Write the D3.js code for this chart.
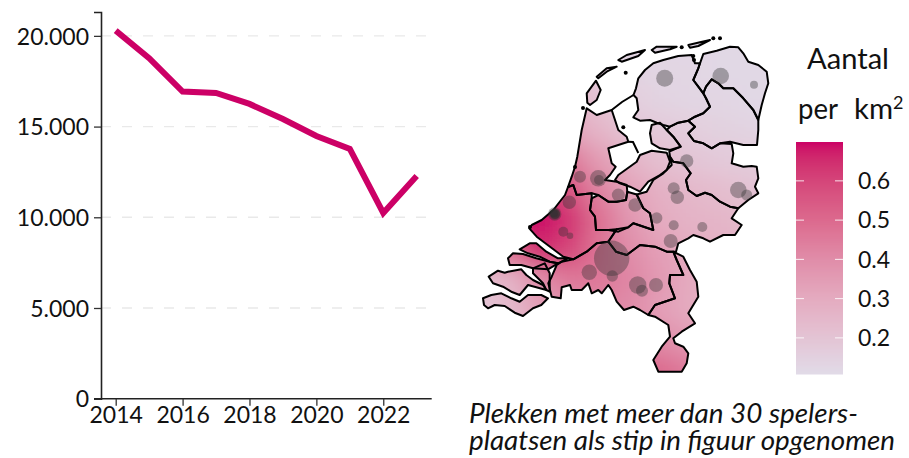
<!DOCTYPE html>
<html><head><meta charset="utf-8">
<style>html,body{margin:0;padding:0;background:#fff}svg{display:block}text{font-family:Lato,"Noto Sans",sans-serif;fill:#111}</style>
<script src="https://cdn.jsdelivr.net/npm/d3@7"></script>
</head><body><div id="c"></div>
<script>
const years=[2014,2015,2016,2017,2018,2019,2020,2021,2022,2023];
const players=[20290,18770,16930,16850,16250,15420,14480,13770,10240,12280];
const yTicks=[0,5000,10000,15000,20000];
const xTicks=[2014,2016,2018,2020,2022];
const legendTicks=[0.2,0.3,0.4,0.5,0.6];
const noteLines=["Plekken met meer dan 30 spelers-","plaatsen als stip in figuur opgenomen"];

// Province outlines in map-grid units
const friesland=[[211.7,15],[198.3,16],[183.3,20],[173.3,23.3],[165,30],[158.3,38.3],[156,48.3],[153.5,55],[156.7,58.3],[158.3,70],[153.3,77.3],[160,80.7],[170,80],[176.7,82.7],[183.3,85],[190,86.7],[198.3,82.7],[208.3,80.7],[215,76.7],[223.3,73.3],[230,66.7],[226,58.3],[223.3,53.3],[218.3,46.7],[213.3,40],[218.3,28.3],[220,23.3],[215,23.3]];
const groningen=[[220,23.3],[223.3,14],[236.7,10.7],[250,6.7],[258.3,7.3],[263.3,13.3],[268.3,21.7],[278.3,25],[286.7,31.7],[288.3,43.3],[285,53.3],[281.7,65],[278.3,80],[273.3,70],[263.3,58.3],[253.3,48.3],[243.3,48.3],[238.3,43.3],[231.7,39.3],[226,46.7],[223.3,53.3],[218.3,46.7],[213.3,40],[218.3,28.3]];
const drenthe=[[223.3,53.3],[226,46.7],[231.7,39.3],[238.3,43.3],[243.3,48.3],[253.3,48.3],[263.3,58.3],[273.3,70],[278.3,80],[278.3,90],[277,105],[263.3,105],[250,101.7],[240,103.3],[231.7,108.3],[223.3,103.3],[214,101],[208.3,93.3],[215,86.7],[208.3,80.7],[215,76.7],[223.3,73.3],[230,66.7],[226,58.3]];
const noordoostpolder=[[171.7,85],[180,82.7],[186.7,90],[193.3,96.7],[200.7,106.7],[190,110],[180,108.3],[171.7,103.3],[170,93.3]];
const flevoland=[[138.3,135],[156.7,121.7],[160,115],[171.7,110.7],[186.7,112.7],[190,121.7],[186.7,130],[180,135],[168.3,141.7],[160,151.7],[150,146.7],[140,143.3],[135,140]];
const overijssel=[[190,86.7],[198.3,82.7],[208.3,80.7],[215,86.7],[208.3,93.3],[214,101],[223.3,103.3],[231.7,108.3],[240,103.3],[251.7,104],[253.3,113.3],[251.7,123.3],[263.3,126.7],[271.7,126],[276.7,126.7],[278.3,138.3],[275,146.7],[278.3,153.3],[268.3,160],[258.3,168.3],[250,166.7],[240,161.7],[231.7,155],[225,152.7],[216.7,156],[208.3,150],[206,140],[210.7,133.3],[203.3,123.3],[193.3,121.7],[190,116.7],[189.3,111.7],[200.7,106.7],[193.3,96.7],[186.7,90]];
const gelderland=[[190,116.7],[193.3,121.7],[203.3,123.3],[210.7,133.3],[206,140],[208.3,150],[216.7,156],[225,152.7],[231.7,155],[240,161.7],[250,166.7],[258.3,168.3],[251.7,178.3],[261.7,185],[255,195],[243.3,195],[230,201.7],[223.3,198.3],[213.3,195],[208.3,198.3],[198.3,203.3],[196,211.7],[186.7,211.7],[175,206.7],[160,205],[146.7,215],[136,211.7],[128.3,201.7],[136.7,189.3],[148.3,187.3],[153.3,183.3],[173.3,190],[170,173.3],[163.3,168.3],[156.7,154.5],[166.7,151.7],[173.3,140],[183.3,133.3],[191.7,125]];
const utrecht=[[111.7,158.3],[118.3,155],[128.3,161.7],[136.7,161.7],[146,160],[147.3,151.7],[156.7,154.5],[163.3,168.3],[170,173.3],[173.3,190],[153.3,183.3],[148.3,187.3],[138.3,191.7],[128.3,190],[116,190],[115,176.7],[110,170]];
const noordHolland=[[106.7,68.3],[116.7,75],[131.7,70],[138.3,90],[146.7,96.7],[148.3,101.7],[128.3,108.3],[131.7,123.3],[135.7,126.7],[130,135],[125,140],[136.7,141.7],[146.7,145],[147.3,151.7],[146,160],[136.7,161.7],[128.3,161.7],[118.3,155],[111.7,153.3],[96.7,155],[93.3,145],[88,147],[91.7,136.7],[95,126.7],[97.3,116.7],[101.7,90]];
const zuidHolland=[[88,147],[93.3,145],[96.7,155],[111.7,153.3],[111.7,158.3],[110,170],[115,176.7],[116,190],[128.3,190],[136.7,189.3],[128.3,201.7],[116.7,203.3],[106.7,211.7],[93.3,219.3],[83.3,216.7],[70,206.7],[56.7,196.7],[49.3,188.3],[51.7,185],[61.7,180],[73.3,170],[85,155]];
const brabant=[[128.3,201.7],[136,211.7],[146.7,215],[160,205],[175,206.7],[186.7,211.7],[193.3,211.7],[196.7,220],[203.3,235],[190,235],[189.3,243.3],[195,258.3],[175,265],[168.3,275],[160,270],[153.3,266.7],[144,270],[136.7,261.7],[131.7,250],[128.3,245],[121.7,253.3],[118.3,250],[111.7,253.3],[108.3,243.3],[101.7,250],[91.7,250],[90,245],[81.7,247.3],[80.7,258.3],[71.7,256.7],[68.3,243.3],[71.7,236.7],[76.7,225],[81.7,221.7],[93.3,219.3],[106.7,211.7],[116.7,203.3]];
const limburg=[[193.3,211.7],[203.3,216.7],[210,230],[216.7,241.7],[218.3,256.7],[208.3,273.3],[215,283.3],[201.7,291.7],[193.3,298.3],[195,303.3],[203.3,306.7],[208.3,313.3],[206.7,323.3],[201.7,331.7],[178.3,331.7],[173.3,320],[181.7,306.7],[190,296.7],[188.3,285],[175,276.7],[168.3,275],[175,265],[195,258.3],[189.3,243.3],[190,235],[203.3,235],[196.7,220]];
const overflakkee=[[39.7,209.3],[49.7,203.3],[56.3,203.3],[66.3,211.7],[78,218.3],[88,218.3],[78,223.3],[69.7,221.7],[59.7,216.7],[48,213.3]];
const schouwen=[[28,218.3],[33,213.3],[43,214],[56.3,218.3],[69.7,221.7],[78,223.3],[68,229.3],[53,228.3],[41.3,225],[29.7,225]];
const tholen=[[53,228.3],[64.7,223.3],[69.7,233.3],[69.7,251.7],[66.3,250],[63,243.3],[53,233.3]];
const beveland=[[8.7,236.7],[18,230.7],[24.7,232.7],[28,231.7],[41.3,229.3],[46.3,235],[53,240],[63,245],[66.3,250],[56.3,247.3],[48,245],[39.7,255],[31.3,251.7],[23,246.7],[13,243.3]];
const zeeuwsVlaanderen=[[3,258.3],[11.3,255],[21.3,253.3],[31.3,258.3],[39.7,261.7],[48,255],[61.3,255],[68,258.3],[61.3,265],[53,268.3],[43,276],[34.7,272.7],[24.7,266],[14.7,265],[8,268.3],[4,265]];
const texel=[[107.3,62.7],[106.7,53.3],[116,40.7],[120.7,50],[116.7,60],[110,65]];
const vlieland=[[116.7,36.7],[126.7,28.3],[136.7,26.7],[126.7,31.7],[118.3,38.3]];
const terschelling=[[138.3,20],[146.7,15],[165,10],[158.3,16],[141.7,21.7]];
const ameland=[[171.7,10],[176.7,6.7],[196.7,6.7],[190,9.3],[175,12.7]];
const schiermonnikoog=[[208.3,5],[220,2.3],[230,0],[218.3,6],[210,7.7]];
const regions=[friesland,groningen,drenthe,noordoostpolder,flevoland,overijssel,gelderland,utrecht,noordHolland,zuidHolland,brabant,limburg,overflakkee,schouwen,tholen,beveland,zeeuwsVlaanderen,texel,vlieland,terschelling,ameland,schiermonnikoog];
const afsluitdijk=[[131.7,70],[142,62],[153.5,55]];
const houtribdijk=[[148.3,101.7],[153,102],[158.3,113]];
const dikes=[afsluitdijk,houtribdijk];
const islets=[[233.3,-1.7],[240,-1.7],[145.7,32.7],[143.3,87.3],[201.7,7.3],[213.3,16],[214,20],[103,68],[95,127],[50,187]];

// Density surface (per km2), sampled on a coarse map grid
const gridU=[-30,0,30,60,90,120,150,180,210,240,270,300,330];
const gridV=[-30,0,30,60,90,120,150,180,210,240,270,300,330,360];
const densityGrid=[
[.12,.12,.12,.12,.12,.12,.12,.12,.12,.12,.12,.12,.12],
[.15,.15,.15,.15,.16,.15,.13,.13,.12,.12,.12,.12,.12],
[.2,.2,.2,.2,.2,.18,.14,.13,.13,.12,.12,.12,.12],
[.3,.3,.3,.28,.25,.21,.16,.14,.13,.13,.12,.12,.12],
[.42,.42,.4,.36,.32,.26,.2,.18,.16,.15,.14,.13,.13],
[.6,.6,.58,.55,.46,.35,.27,.22,.2,.18,.17,.16,.16],
[.72,.72,.7,.68,.56,.43,.33,.28,.25,.23,.21,.2,.2],
[.68,.68,.72,.76,.64,.48,.37,.3,.27,.26,.24,.22,.22],
[.45,.45,.5,.66,.6,.47,.4,.34,.3,.28,.26,.25,.25],
[.2,.22,.27,.4,.46,.46,.42,.36,.3,.28,.26,.25,.25],
[.18,.19,.24,.33,.38,.42,.4,.34,.3,.28,.26,.25,.25],
[.18,.2,.25,.32,.37,.42,.44,.4,.36,.3,.28,.26,.25],
[.2,.22,.3,.36,.4,.46,.52,.5,.45,.38,.3,.28,.26],
[.2,.22,.3,.36,.4,.46,.52,.5,.45,.38,.3,.28,.26]];

// Places with more than 30 play spots: [u, v, size]
const places=[[184.7,38.3,8.5],[240.7,36,8.3],[274,44.7,4],[206.7,121,6.7],[193.7,148.3,6],[197.3,157.3,6.7],[258.3,150,8.3],[266.7,155,5.5],[155,165,6.7],[176.7,178,5.7],[193.7,185.3,5],[222.3,187,5],[190.7,201,7],[100,136.7,6],[118.3,138.3,8.3],[119,140,5],[89.3,162.3,6.7],[74.7,174,6.7],[74.7,174,5.5],[75,174,5],[75,174,4.5],[74,173.5,4],[74,173.5,3.5],[83.3,191.7,5],[90,195.7,3.3],[138.3,155,6.5],[131.7,218.3,17.7],[109.3,232.3,7.7],[132.3,236,5.7],[157.7,245,8.7],[176,245,7],[162,250.7,6]];

const W=909,H=458;
const svg=d3.select("#c").append("svg").attr("width",W).attr("height",H);
const FS=23;

/* ---- line panel ---- */
const x=d3.scaleLinear().domain([2014,2023]).range([115.7,416.7]);
const y=d3.scaleLinear().domain([0,21316]).range([398.7,12]);
const xLeft=94,xRight=431.7;
svg.append("g").selectAll("line").data(yTicks.slice(1)).join("line")
  .attr("x1",101).attr("x2",xRight).attr("y1",d=>y(d)).attr("y2",d=>y(d))
  .attr("stroke","#e9e9e9").attr("stroke-width",1.4).attr("stroke-dasharray","10 11");
const fmt=d=>d===0?"0":d3.format(",")(d).replace(/,/g,".");
const yAxis=svg.append("g").attr("transform","translate(101,0)")
  .call(d3.axisLeft(y).tickValues(yTicks).tickSize(7).tickPadding(5).tickFormat(fmt));
const xAxis=svg.append("g").attr("transform","translate(0,398.7)")
  .call(d3.axisBottom(x).tickValues(xTicks).tickSize(7).tickPadding(1).tickFormat(d3.format("d")));
xAxis.select(".domain").attr("d",`M${xLeft},0H${xRight}`);
[yAxis,xAxis].forEach(a=>{
  a.selectAll(".domain").attr("stroke","#222").attr("stroke-width",1.6);
  a.selectAll(".tick line").attr("stroke","#333").attr("stroke-width",1.3);
  a.selectAll("text").attr("font-size",FS).attr("font-family","Lato").attr("fill","#111");
});
xAxis.selectAll("text").attr("dy","0.72em");
yAxis.selectAll(".tick text").attr("dy","0.36em");
svg.append("path").datum(years.map((d,i)=>[d,players[i]]))
  .attr("fill","none").attr("stroke","#cc0066").attr("stroke-width",6).attr("stroke-linejoin","miter")
  .attr("d",d3.line().x(d=>x(d[0])).y(d=>y(d[1])));

/* ---- map ---- */
const u=d3.scaleLinear().domain([0,300]).range([480,780]);
const v=d3.scaleLinear().domain([0,340]).range([40,380]);
const color=d3.scaleLinear().domain([0.108,0.3,0.4,0.5,0.699])
  .range(["#e1dbe8","#e4abc0","#e08da9","#dc6a8e","#cc0066"]).interpolate(d3.interpolateLab).clamp(true);
const outline=d3.line().x(d=>u(d[0])).y(d=>v(d[1])).curve(d3.curveLinearClosed);
const open=d3.line().x(d=>u(d[0])).y(d=>v(d[1]));
const defs=svg.append("defs");
defs.append("clipPath").attr("id","nl").selectAll("path").data(regions).join("path").attr("d",outline);
defs.append("filter").attr("id","soft").attr("filterUnits","userSpaceOnUse")
  .attr("x",440).attr("y",0).attr("width",400).attr("height",420)
  .append("feGaussianBlur").attr("stdDeviation",11);
const cells=gridV.flatMap((gv,r)=>gridU.map((gu,c)=>({gu,gv,val:densityGrid[r][c]})));
const dx=u(30)-u(0),dy=v(30)-v(0);
svg.append("g").attr("clip-path","url(#nl)").append("g").attr("filter","url(#soft)")
  .selectAll("rect").data(cells).join("rect")
  .attr("x",d=>u(d.gu)-dx/2).attr("y",d=>v(d.gv)-dy/2).attr("width",dx+1).attr("height",dy+1)
  .attr("fill",d=>color(d.val));
svg.append("g").selectAll("path").data(regions).join("path").attr("d",outline)
  .attr("fill","none").attr("stroke","#000").attr("stroke-width",2).attr("stroke-linejoin","round");
svg.append("g").selectAll("path").data(dikes).join("path").attr("d",open)
  .attr("fill","none").attr("stroke","#000").attr("stroke-width",2);
svg.append("g").selectAll("circle").data(islets).join("circle")
  .attr("cx",d=>u(d[0])).attr("cy",d=>v(d[1])).attr("r",2).attr("fill","#000");
svg.append("g").selectAll("circle").data(places).join("circle")
  .attr("cx",d=>u(d[0])).attr("cy",d=>v(d[1])).attr("r",d=>d[2])
  .attr("fill","#333").attr("fill-opacity",0.38);

/* ---- legend ---- */
const ly=d3.scaleLinear().domain([0.108,0.699]).range([374,142]);
const nBins=116;
const bins=d3.range(nBins).map(i=>0.108+(0.699-0.108)*i/nBins);
const bw=(0.699-0.108)/nBins;
svg.append("g").selectAll("rect").data(bins).join("rect")
  .attr("x",796).attr("width",47).attr("y",d=>ly(d+bw)).attr("height",d=>ly(d)-ly(d+bw)+0.5)
  .attr("fill",d=>color(d+bw/2));
const lt=svg.append("g").selectAll("g").data(legendTicks).join("g").attr("transform",d=>`translate(0,${ly(d)})`);
lt.append("line").attr("x1",796).attr("x2",804).attr("stroke","#fff").attr("stroke-opacity",.85);
lt.append("line").attr("x1",835).attr("x2",843).attr("stroke","#fff").attr("stroke-opacity",.85);
lt.append("text").attr("x",858).attr("dy","0.36em").attr("font-size",FS).text(d=>d.toFixed(1));
svg.append("text").attr("x",807).attr("y",69).attr("font-size",29).attr("textLength",82).attr("lengthAdjust","spacingAndGlyphs").text("Aantal");
svg.append("text").attr("x",798).attr("y",119).attr("font-size",29).attr("textLength",40).attr("lengthAdjust","spacingAndGlyphs").text("per");
svg.append("text").attr("x",854).attr("y",119).attr("font-size",29).attr("textLength",39).attr("lengthAdjust","spacingAndGlyphs").text("km");
svg.append("text").attr("x",893).attr("y",109).attr("font-size",18).text("2");

/* ---- note ---- */
svg.append("g").selectAll("text").data(noteLines).join("text")
  .attr("x",469).attr("y",(d,i)=>423+i*27).attr("font-size",27).attr("font-style","italic")
  .attr("textLength",(d,i)=>i?426:389).attr("lengthAdjust","spacingAndGlyphs").text(d=>d);
</script></body></html>
